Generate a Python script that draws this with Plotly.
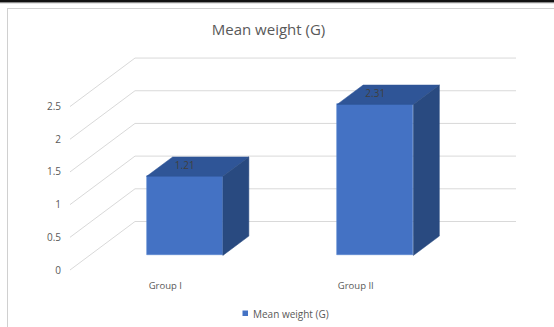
import plotly.graph_objects as go

# --- data ---
categories = ["Group I", "Group II"]
mean_weight = [1.21, 2.31]
tick_values = [0, 0.5, 1, 1.5, 2, 2.5]
tick_labels = ["0", "0.5", "1", "1.5", "2", "2.5"]
series_name = "Mean weight (G)"

# --- canvas / projection settings ---
W, H = 554, 327
L, R, T, B = 66, 34, 52, 55
PPX = 190.5          # pixels per category unit
PPY = 65.38          # pixels per value unit
X_FRONT0 = 70        # pixel x of front-left corner
Y_FRONT0 = 270       # pixel y of value 0 on the front plane
DX = 65 / PPX        # depth offset in category units
DY = 48.5 / PPY      # depth offset in value units
BAR_W = 0.4
D0, D1 = 0.3, 0.7    # bar depth span (fraction of full depth)

x_lo = -0.5 - (X_FRONT0 - L) / PPX
x_hi = -0.5 + (W - R - X_FRONT0) / PPX
y_lo = -((H - B) - Y_FRONT0) / PPY
y_hi = (Y_FRONT0 - T) / PPY
plot_w = W - L - R
plot_h = H - T - B

def px2paper_x(px):
    return (px - L) / plot_w

def px2paper_y(py):
    return ((H - B) - py) / plot_h

xs = list(range(len(categories)))

FRONT = "#4472C4"
TOP = "#2F5597"
SIDE = "#294A80"
GRID = "#D9D9D9"
TXT = "#595959"
FONT = "Open Sans"

fig = go.Figure()

# front faces of the boxes
fig.add_trace(go.Bar(
    x=[c + D0 * DX for c in xs],
    y=mean_weight,
    base=[D0 * DY] * len(xs),
    width=BAR_W,
    name=series_name,
    marker=dict(color=FRONT, line=dict(color="#5B86D2", width=0.6)),
    showlegend=False,
    hoverinfo="skip",
))

# top and side faces
for c, v in zip(xs, mean_weight):
    xl = c - BAR_W / 2 + D0 * DX
    xr = c + BAR_W / 2 + D0 * DX
    dd = (D1 - D0)
    fig.add_trace(go.Scatter(
        x=[xl, xr, xr + dd * DX, xl + dd * DX, xl],
        y=[v + D0 * DY, v + D0 * DY, v + D1 * DY, v + D1 * DY, v + D0 * DY],
        fill="toself", fillcolor=TOP, mode="lines",
        line=dict(color=TOP, width=0.5), showlegend=False, hoverinfo="skip",
    ))
    fig.add_trace(go.Scatter(
        x=[xr, xr, xr + dd * DX, xr + dd * DX, xr],
        y=[D0 * DY, v + D0 * DY, v + D1 * DY, D1 * DY, D0 * DY],
        fill="toself", fillcolor=SIDE, mode="lines",
        line=dict(color=SIDE, width=0.5), showlegend=False, hoverinfo="skip",
    ))

# value labels on the top faces
fig.add_trace(go.Scatter(
    x=[c + D0 * DX for c in xs],
    y=[v + 0.5 * DY for v in mean_weight],
    mode="text",
    text=[f"{v:.2f}" for v in mean_weight],
    textfont=dict(family=FONT, size=10, color="#404040"),
    showlegend=False, hoverinfo="skip",
))

# back wall and side wall gridlines
shapes = []
x_left = -0.5
x_right = 1.5 + DX
for t in tick_values:
    shapes.append(dict(type="line", xref="x", yref="y", layer="below",
                       x0=x_left, y0=t, x1=x_left + DX, y1=t + DY,
                       line=dict(color=GRID, width=1)))
    shapes.append(dict(type="line", xref="x", yref="y", layer="below",
                       x0=x_left + DX, y0=t + DY, x1=x_right, y1=t + DY,
                       line=dict(color=GRID, width=1)))

# legend key square
shapes.append(dict(type="rect", xref="paper", yref="paper",
                   x0=px2paper_x(242.5), x1=px2paper_x(248),
                   y0=px2paper_y(310.5), y1=px2paper_y(316),
                   fillcolor=FRONT, line=dict(width=0)))

# chart frame and top rule
shapes.append(dict(type="rect", xref="paper", yref="paper",
                   x0=px2paper_x(0), x1=px2paper_x(W),
                   y0=px2paper_y(0), y1=px2paper_y(2),
                   fillcolor="#111111", line=dict(width=0), layer="above"))
shapes.append(dict(type="rect", xref="paper", yref="paper",
                   x0=px2paper_x(0), x1=px2paper_x(W),
                   y0=px2paper_y(2), y1=px2paper_y(3.2),
                   fillcolor="#8a8a8a", line=dict(width=0), layer="above"))
shapes.append(dict(type="line", xref="paper", yref="paper",
                   x0=px2paper_x(7.5), x1=px2paper_x(7.5),
                   y0=px2paper_y(8), y1=px2paper_y(H),
                   line=dict(color="#D0D0D0", width=1)))
shapes.append(dict(type="line", xref="paper", yref="paper",
                   x0=px2paper_x(7), x1=px2paper_x(W),
                   y0=px2paper_y(8.5), y1=px2paper_y(8.5),
                   line=dict(color="#D0D0D0", width=1)))

annotations = [dict(
    text=series_name, xref="paper", yref="paper",
    x=px2paper_x(251), y=px2paper_y(313.5),
    xanchor="left", yanchor="middle", showarrow=False,
    font=dict(family=FONT, size=10, color=TXT),
)]

fig.update_layout(
    width=W, height=H,
    margin=dict(l=L, r=R, t=T, b=B),
    paper_bgcolor="white", plot_bgcolor="white",
    shapes=shapes,
    annotations=annotations,
    title=dict(text="Mean weight (G)", x=268.5 / W, xref="container",
               y=1 - 30 / H, yref="container", xanchor="center", yanchor="middle",
               font=dict(family=FONT, size=15, color=TXT)),
    xaxis=dict(range=[x_lo, x_hi], tickvals=xs, ticktext=categories,
               showgrid=False, zeroline=False, showline=False, ticks="",
               tickfont=dict(family=FONT, size=9.5, color=TXT),
               ticklabelstandoff=6, fixedrange=True, automargin=False),
    yaxis=dict(range=[y_lo, y_hi], tickvals=tick_values, ticktext=tick_labels,
               showgrid=False, zeroline=False, showline=False, ticks="",
               tickfont=dict(family=FONT, size=10, color=TXT),
               ticklabelstandoff=4, fixedrange=True, automargin=False),
    bargap=0,
    showlegend=False,
)

fig.write_html("out.html")
